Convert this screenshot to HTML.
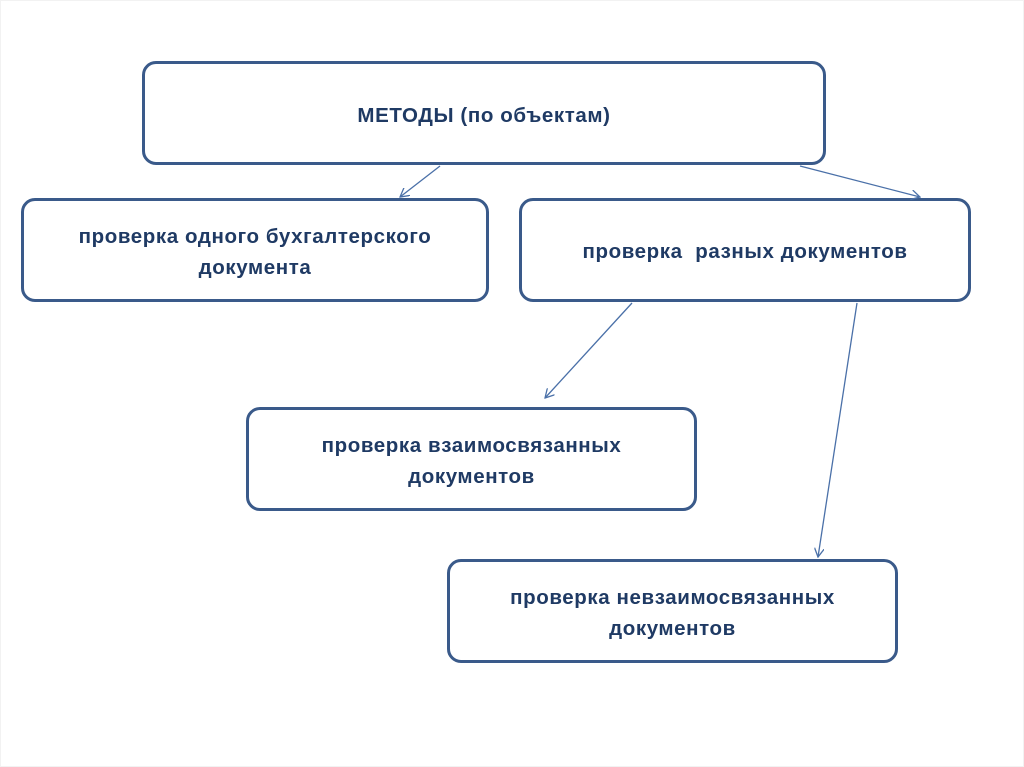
<!DOCTYPE html>
<html><head><meta charset="utf-8"><style>
html,body{margin:0;padding:0;background:#fff}
body{width:1024px;height:767px;position:relative;overflow:hidden;font-family:"Liberation Sans",sans-serif}
.b{position:absolute;box-sizing:border-box;border:3px solid #3a5a8a;border-radius:14px;background:#fff;display:flex;align-items:center;justify-content:center;text-align:center;color:#1f3a64;font-weight:bold;font-size:20.5px;letter-spacing:0.6px;line-height:31px}
svg{position:absolute;left:0;top:0}
</style></head><body>
<div class="b" style="left:142px;top:61px;width:684px;height:104px;padding-top:4px">МЕТОДЫ (по объектам)</div>
<div class="b" style="left:21px;top:198px;width:468px;height:104px;padding-top:4px">проверка одного бухгалтерского<br>документа</div>
<div class="b" style="left:519px;top:198px;width:452px;height:104px;padding-top:2px">проверка&nbsp; разных документов</div>
<div class="b" style="left:246px;top:407px;width:451px;height:104px;padding-top:4px">проверка взаимосвязанных<br>документов</div>
<div class="b" style="left:447px;top:559px;width:451px;height:104px;padding-top:4px">проверка невзаимосвязанных<br>документов</div>
<svg width="1024" height="767">
<defs><marker id="a" markerWidth="10" markerHeight="10" refX="9" refY="5" orient="auto" markerUnits="userSpaceOnUse"><path d="M0,0 L9,5 L0,10" fill="none" stroke="#4a70a8" stroke-width="1.3"/></marker></defs>
<g stroke="#4a70a8" stroke-width="1.3" fill="none" marker-end="url(#a)">
<line x1="440" y1="166" x2="400" y2="197"/>
<line x1="800" y1="166" x2="920" y2="197"/>
<line x1="632" y1="303" x2="545" y2="398"/>
<line x1="857" y1="303" x2="818" y2="557"/>
</g>
<rect x="0.5" y="0.5" width="1023" height="766" fill="none" stroke="#f2f2f2"/>
</svg>
</body></html>
